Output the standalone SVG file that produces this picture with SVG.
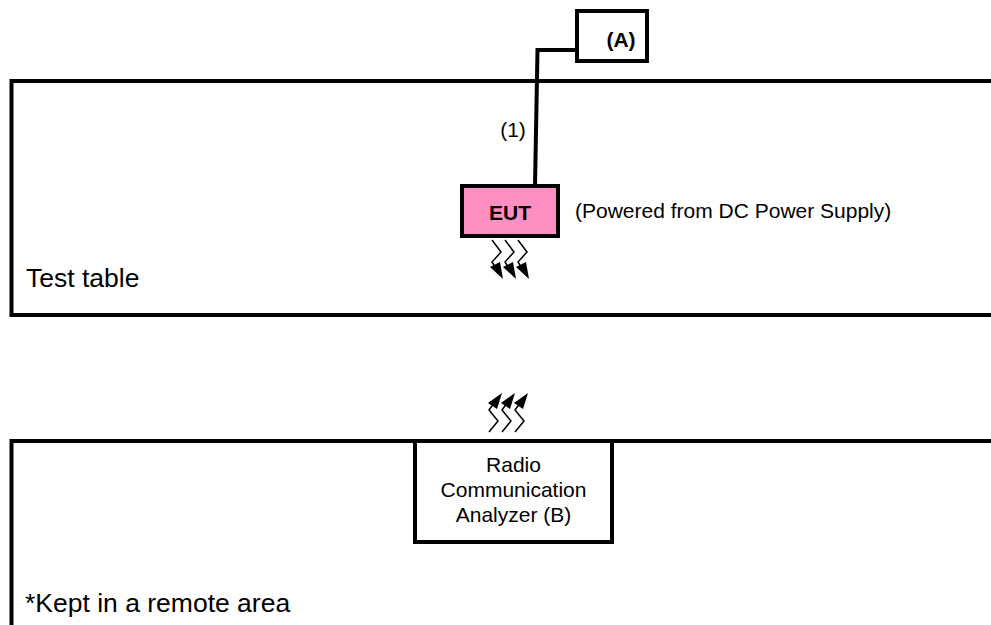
<svg xmlns="http://www.w3.org/2000/svg" width="991" height="625" viewBox="0 0 991 625">
<defs>
<g id="wave-d"><path class="w" d="M492 240L501 252L492 262L497 270"/><path class="h" d="M503 279L490 267L500 262Z"/></g>
<g id="wave-u"><path class="w" d="M489 432L498 421L489 410L494 403"/><path class="h" d="M502 393L488 403L497 409Z"/></g>
</defs>
<style>
text{font-family:"Liberation Sans",Arial,sans-serif;fill:#000}
.b{fill:none;stroke:#000;stroke-width:4}
.w{fill:none;stroke:#000;stroke-width:1.5}
.h{fill:#000;stroke:none}
</style>
<rect width="991" height="625" fill="#fff"/>
<g id="table"><path class="b" d="M993 81H11.500V315H993"/><text x="26" y="287" font-size="26.500">Test table</text></g>
<g id="remote"><path class="b" d="M993 441H11.500V627"/><text x="25" y="612" font-size="26.500">*Kept in a remote area</text></g>
<g id="connectors">
<path fill="none" stroke="#000" stroke-width="4" d="M580 50H537.500L535 186"/>
</g>
<g id="a"><rect x="577" y="11" width="70" height="50" fill="#fff" stroke="#000" stroke-width="4"/><text x="621" y="47" font-size="21" font-weight="bold" text-anchor="middle">(A)</text></g>
<text id="label1" x="513" y="137" font-size="21" text-anchor="middle">(1)</text>
<g id="eut"><rect x="462" y="186" width="96" height="50" fill="#ff8fc2" stroke="#000" stroke-width="4"/><text x="510" y="220" font-size="21" font-weight="bold" text-anchor="middle">EUT</text></g>
<text id="powered" x="575" y="218" font-size="21">(Powered from DC Power Supply)</text>
<g id="waves-down"><use href="#wave-d"/><use href="#wave-d" x="13"/><use href="#wave-d" x="26"/></g>
<g id="waves-up"><use href="#wave-u"/><use href="#wave-u" x="13"/><use href="#wave-u" x="26"/></g>
<g id="analyzer"><rect x="415" y="441" width="197" height="101" fill="#fff" stroke="#000" stroke-width="4"/>
<text font-size="21" text-anchor="middle"><tspan x="513.500" y="472">Radio</tspan><tspan x="513.500" y="497">Communication</tspan><tspan x="513.500" y="522">Analyzer (B)</tspan></text></g>
</svg>
